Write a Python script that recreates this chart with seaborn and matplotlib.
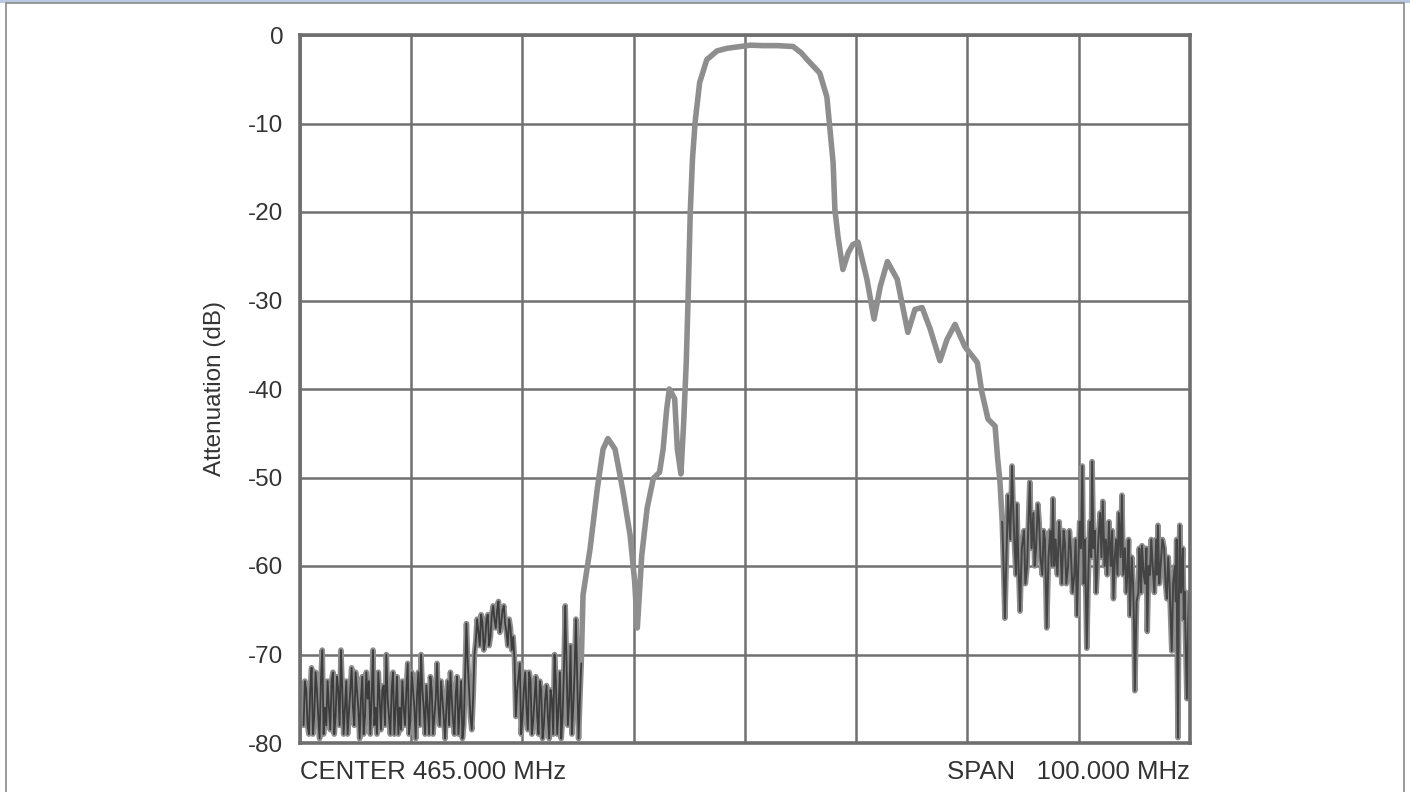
"""Band-pass filter attenuation trace, spectrum analyzer style."""
import matplotlib
matplotlib.use("Agg")
import matplotlib.pyplot as plt
from matplotlib.patches import Rectangle
import numpy as np
import pandas as pd
import seaborn as sns

# ---- data (MHz, dB) ----
left_noise_mhz = [415.40, 415.55, 415.70, 415.85, 416.00, 416.15, 416.30, 416.45, 416.60, 416.75,
                  416.90, 417.05, 417.20, 417.35, 417.50, 417.65, 417.80, 417.95, 418.10, 418.25,
                  418.40, 418.55, 418.70, 418.85, 419.00, 419.15, 419.30, 419.45, 419.60, 419.75,
                  419.90, 420.05, 420.20, 420.35, 420.50, 420.65, 420.80, 420.95, 421.10, 421.25,
                  421.40, 421.55, 421.70, 421.85, 422.00, 422.15, 422.30, 422.45, 422.60, 422.75,
                  422.90, 423.05, 423.20, 423.35, 423.50, 423.65, 423.80, 423.95, 424.10, 424.25,
                  424.40, 424.55, 424.70, 424.85, 425.00, 425.15, 425.30, 425.45, 425.60, 425.75,
                  425.90, 426.05, 426.20, 426.35, 426.50, 426.65, 426.80, 426.95, 427.10, 427.25,
                  427.40, 427.55, 427.70, 427.85, 428.00, 428.15, 428.30, 428.45, 428.60, 428.75,
                  428.90, 429.05, 429.20, 429.35, 429.50, 429.65, 429.80, 429.95, 430.10, 430.25,
                  430.40, 430.55, 430.70, 430.85, 431.00, 431.15, 431.30, 431.45, 431.60, 431.75,
                  431.90, 432.05, 432.20, 432.35, 432.50, 432.65, 432.80, 432.95, 433.10, 433.25,
                  433.40]
left_noise_db = [-78, -73, -74, -78, -79, -74, -71.5, -79, -77, -72,
                 -74, -77, -79.5, -73, -69.5, -79, -76, -78, -73, -76,
                 -78.5, -73, -72, -79, -77, -72.5, -74, -78, -69.5, -74,
                 -79, -76, -73, -79, -76.5, -74, -71.5, -76, -78, -72,
                 -74, -76, -79.5, -75, -72.5, -79, -77, -72, -75, -73,
                 -79, -75, -69.5, -78, -76, -79, -72, -75, -78.5, -74,
                 -73.5, -78, -70, -75, -77, -79, -74, -72, -79, -76,
                 -72.5, -79, -76, -78.5, -73, -76, -78, -74, -71, -79,
                 -77.5, -72, -74, -76, -79.5, -74.5, -72, -78, -70, -74,
                 -76, -79, -73.5, -76, -79, -72.5, -74, -79, -77, -75,
                 -71, -76, -78, -73, -75, -77, -79.5, -76, -73, -78,
                 -72, -75, -77.5, -79, -74.5, -72.5, -79, -76, -73, -79.5,
                 -78]

hump_mhz = [433.70, 433.85, 434.00, 434.15, 434.30, 434.45, 434.60, 434.75, 434.90, 435.05,
            435.20, 435.35, 435.50, 435.65, 435.80, 435.95, 436.10, 436.25, 436.40, 436.55,
            436.70, 436.85, 437.00, 437.15, 437.30, 437.45, 437.60, 437.75, 437.90, 438.05,
            438.20, 438.35, 438.50, 438.65, 438.80, 438.95, 439.10, 439.25, 439.40]
hump_db = [-66.5, -71, -74, -77, -78.5, -75, -70, -68.5, -66, -67.5,
           -69, -65.5, -66.5, -69.5, -68.5, -66, -65.5, -69, -68, -65.5,
           -64.5, -66, -67, -65, -64, -67.5, -66.5, -65, -64.5, -66.5,
           -67.5, -69, -66, -67, -69.5, -68, -70.5, -77, -74]

mid_noise_mhz = [439.70, 439.85, 440.00, 440.15, 440.30, 440.45, 440.60, 440.75, 440.90, 441.05,
                 441.20, 441.35, 441.50, 441.65, 441.80, 441.95, 442.10, 442.25, 442.40, 442.55,
                 442.70, 442.85, 443.00, 443.15, 443.30, 443.45, 443.60, 443.75, 443.90, 444.05,
                 444.20, 444.35, 444.50, 444.65, 444.80, 444.95, 445.10, 445.25, 445.40, 445.55,
                 445.70, 445.85, 446.00, 446.15, 446.30, 446.45, 446.60]
mid_noise_db = [-71, -79, -77, -74, -72, -76, -78.5, -72, -73, -79,
                -77.5, -75, -72.5, -77, -79, -73, -74, -79.5, -78, -75,
                -73.5, -77, -79.5, -74, -75, -79, -70, -73, -79, -76,
                -72, -79.5, -77, -72, -64.5, -71, -78, -75, -69, -79,
                -76, -72, -66, -73, -79.5, -75, -71]

main_mhz = [446.8, 447.6, 448.4, 449.05, 449.6, 450.4, 451.3, 452.1, 452.6, 452.9,
            453.4, 454.0, 454.7, 455.4, 455.8, 456.2, 456.5, 457.1, 457.4, 457.8,
            458.1, 458.4, 458.6, 458.85, 459.1, 459.4, 459.9, 460.7, 461.85, 463.0,
            464.1, 465.6, 467.0, 468.6, 470.4, 471.3, 472.0, 473.4, 474.2, 474.55,
            474.9, 475.1, 475.45, 476.0, 476.6, 477.1, 477.7, 478.7, 479.5, 480.2,
            481.0, 482.1, 483.3, 484.1, 484.9, 485.8, 486.9, 487.7, 488.6, 489.7,
            491.1, 491.6, 492.3, 493.1, 493.4, 493.65]
main_db = [-63.3, -58, -51.3, -46.8, -45.6, -46.8, -51.6, -56.6, -61.7, -67,
           -58.8, -53.5, -50.1, -49.4, -46.8, -42.3, -40, -41.1, -46.8, -49.6,
           -44, -37, -30, -20, -14, -9.8, -5.4, -2.8, -1.8, -1.5,
           -1.35, -1.15, -1.2, -1.2, -1.3, -2, -2.8, -4.3, -7, -10.7,
           -14.4, -19.7, -22.8, -26.5, -24.6, -23.7, -23.4, -27.6, -32.1, -28.4,
           -25.6, -27.6, -33.6, -31, -30.8, -33.2, -36.8, -34.4, -32.7, -35.2,
           -37, -40.3, -43.4, -44.2, -48, -50.5]

right_noise_mhz = [493.9, 494.05, 494.2, 494.4, 494.55, 494.8, 495.0, 495.15, 495.3, 495.45,
                   495.55, 495.7, 495.9, 496.1, 496.35, 496.5, 496.7, 496.85, 497.0, 497.2,
                   497.4, 497.55, 497.7, 497.9, 498.05, 498.2, 498.4, 498.55, 498.7, 498.8,
                   498.9, 499.1, 499.3, 499.45, 499.6, 499.75, 499.9, 500.1, 500.3, 500.45,
                   500.6, 500.8, 500.95, 501.1, 501.3, 501.45, 501.6, 501.8, 502.0, 502.15,
                   502.3, 502.45, 502.6, 502.75, 502.9, 503.05, 503.2, 503.3, 503.4, 503.6,
                   503.75, 503.9, 504.0, 504.15, 504.3, 504.45, 504.55, 504.7, 504.9, 505.05,
                   505.2, 505.4, 505.55, 505.7, 505.9, 506.0, 506.1, 506.25, 506.4, 506.55,
                   506.7, 506.85, 507.0, 507.2, 507.35, 507.5, 507.7, 507.85, 508.0, 508.1,
                   508.25, 508.45, 508.6, 508.7, 508.8, 509.0, 509.2, 509.3, 509.4, 509.5,
                   509.6, 509.8, 509.95, 510.1, 510.2, 510.35, 510.5, 510.65, 510.8, 511.0,
                   511.2, 511.3, 511.4, 511.55, 511.7, 511.9, 512.1, 512.25, 512.4, 512.55,
                   512.7, 512.8, 512.95, 513.1, 513.3, 513.4, 513.5, 513.55, 513.65, 513.75,
                   513.85, 514.0, 514.1, 514.2, 514.3, 514.35, 514.4, 514.5, 514.65, 514.8,
                   514.9]
right_noise_db = [-55, -60, -65.9, -58, -52, -57, -48.7, -54, -58, -61,
                  -53, -59, -65.1, -58, -56, -62, -60, -55, -50.5, -58,
                  -54, -60, -58, -53, -55, -59, -61, -56, -57, -62,
                  -67, -59, -56, -60, -52.4, -60, -57, -61, -55, -58,
                  -62, -56, -57.5, -62, -60, -56, -58, -63, -61, -57,
                  -65.6, -60, -55, -58, -48.7, -62, -57, -63, -69.3, -60,
                  -55, -59, -48.2, -58, -56, -63, -61, -57, -54, -59,
                  -52.7, -60, -57, -61, -55, -58, -60, -56, -63.7, -59,
                  -57, -61, -54, -59, -52, -61, -58, -63, -60, -57,
                  -65.6, -59, -62, -66, -74.1, -64, -63, -58, -60, -63,
                  -57.7, -61, -62, -58, -67.4, -60, -61, -57, -59.9, -63,
                  -57, -61, -55.4, -62, -60, -57, -58, -62, -63.7, -59,
                  -62, -65, -69.6, -62, -60, -64, -57, -68, -79.4, -64,
                  -55.4, -63, -60, -58, -66, -64, -62.9, -68, -75, -66,
                  -63]

center_label = "CENTER 465.000 MHz"
span_label = "SPAN   100.000 MHz"
y_ticks = [0, -10, -20, -30, -40, -50, -60, -70, -80]

# ---- assemble ----
trace = pd.DataFrame({
    "freq": left_noise_mhz + hump_mhz + mid_noise_mhz + main_mhz + right_noise_mhz,
    "att": left_noise_db + hump_db + mid_noise_db + main_db + right_noise_db,
})
noisy_low = pd.DataFrame({"freq": left_noise_mhz + hump_mhz + mid_noise_mhz,
                          "att": left_noise_db + hump_db + mid_noise_db})
noisy_high = pd.DataFrame({"freq": right_noise_mhz, "att": right_noise_db})

sns.set_theme(style="white")
plt.rcParams["font.family"] = ["Liberation Sans", "DejaVu Sans"]
plt.rcParams["axes.unicode_minus"] = False

grid_gray = "#707070"
text_col = "#333333"

fig = plt.figure(figsize=(14.1, 7.92), dpi=100)
ax = fig.add_axes([300 / 1410, 1 - 743 / 792, 890 / 1410, 708 / 792])

sns.lineplot(data=trace, x="freq", y="att", ax=ax, color="#8e8e8e", lw=4.0,
             estimator=None, sort=False, zorder=3)
sns.lineplot(data=noisy_low, x="freq", y="att", ax=ax, color="#3c3c3c", lw=1.3,
             estimator=None, sort=False, zorder=4)
sns.lineplot(data=noisy_high, x="freq", y="att", ax=ax, color="#444444", lw=1.4,
             estimator=None, sort=False, zorder=4)

ax.set_xlim(415, 515)
ax.set_ylim(-80, 0)
ax.set_xticks(np.arange(415, 515.1, 12.5))
ax.set_xticklabels([])
ax.set_yticks(y_ticks)
ax.set_yticklabels([str(v) for v in y_ticks])
ax.tick_params(length=0, pad=12, labelsize=17.5, colors=text_col)
ax.grid(True, color=grid_gray, lw=1.8)
ax.set_axisbelow(True)
for sp in ax.spines.values():
    sp.set_color("#6e6e6e")
    sp.set_linewidth(2.6)
    sp.set_zorder(5)

ax.set_xlabel("")
ax.set_ylabel("Attenuation (dB)", fontsize=17.5, color=text_col, va="center")
ax.yaxis.set_label_coords(-0.0955, 0.5)

ax.text(0.0, -0.0415, center_label, transform=ax.transAxes, ha="left", va="center",
        fontsize=18.5, color=text_col)
ax.text(1.0, -0.0415, span_label, transform=ax.transAxes, ha="right", va="center",
        fontsize=18.5, color=text_col)

# page frame around the figure
fig.patches.append(Rectangle((0, 1 - 3 / 792), 1, 3 / 792, transform=fig.transFigure,
                             facecolor="#b9c9e1", edgecolor="none"))
fig.patches.append(Rectangle((6 / 1410, -0.01), 1398 / 1410, 1 - 3 / 792 + 0.01,
                             transform=fig.transFigure, fill=False,
                             edgecolor="#8a8a8a", lw=1.2))

fig.savefig("out.png", dpi=100)
